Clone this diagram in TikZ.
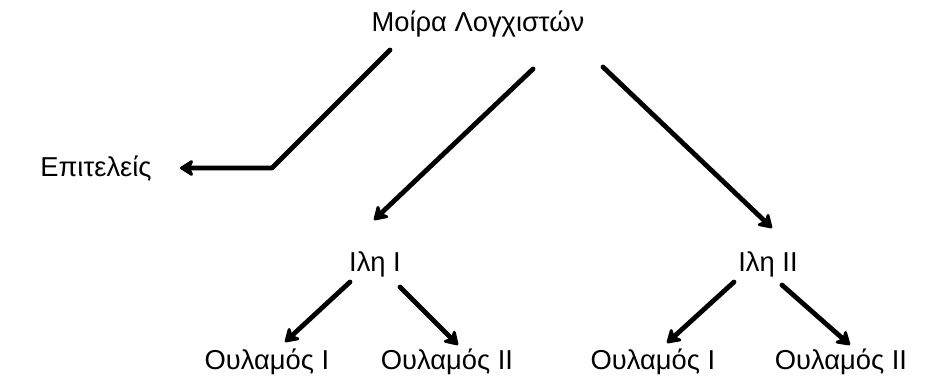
\documentclass[tikz,border=0pt]{standalone}
\usepackage{fontspec}
\setmainfont{Liberation Sans}
\usetikzlibrary{positioning}
\usetikzlibrary{calc}
\usetikzlibrary{arrows.meta}

\begin{document}
\begin{tikzpicture}[
        x=0.75pt, y=-0.75pt,
        unit/.style={inner sep=0pt, anchor=base, font=\fontsize{20.5}{24}\selectfont},
        arrow/.style={line width=3.6pt, line cap=round, line join=round, -{Stealth[length=12pt, width=15pt, inset=3.5pt, round]}},
    ]
        \useasboundingbox (0,0) rectangle (926,381);

        \node[unit] (moira) at (478,32) {Μοίρα Λογχιστών};
        \node[unit] (epi) at (96,177) {Επιτελείς};
        \node[unit] (ile1) at (375,272) {Ιλη Ι};
        \node[unit] (ile2) at (768,272) {Ιλη ΙΙ};
        \node[unit] (oul11) at (267,369) {Ουλαμός Ι};
        \node[unit] (oul12) at (447,369) {Ουλαμός ΙΙ};
        \node[unit] (oul21) at (653,369) {Ουλαμός Ι};
        \node[unit] (oul22) at (841,369) {Ουλαμός ΙΙ};

        \draw[arrow] ($(moira.base)+(-88,18)$) -- ($(epi.base)+(176,-9)$) -- ($(epi.base)+(84,-9)$);
        \draw[arrow] ($(moira.base)+(55,37)$) -- ($(ile1.base)+(-1,-52)$);
        \draw[arrow] ($(moira.base)+(125,35)$) -- ($(ile2.base)+(4,-44)$);

        \draw[arrow] ($(ile1.base)+(-25,10)$) -- ($(oul11.base)+(18,-27)$);
        \draw[arrow] ($(ile1.base)+(25,15)$) -- ($(oul12.base)+(11,-24)$);
        \draw[arrow] ($(ile2.base)+(-34,10)$) -- ($(oul21.base)+(14,-26)$);
        \draw[arrow] ($(ile2.base)+(14,13)$) -- ($(oul22.base)+(9,-24)$);
    \end{tikzpicture}
\end{document}
